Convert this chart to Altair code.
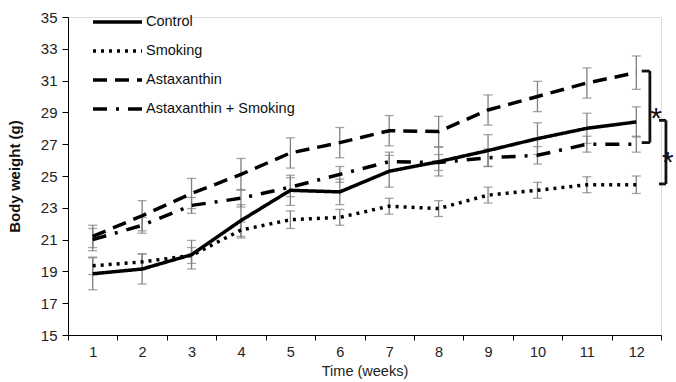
import altair as alt
import pandas as pd

weeks = list(range(1, 13))
series_names = ["Control", "Smoking", "Astaxanthin", "Astaxanthin + Smoking"]

control = [18.85, 19.15, 20.05, 22.2, 24.1, 24.0, 25.3, 25.9, 26.6, 27.35, 28.0, 28.4]
control_err = [1.0, 0.95, 0.9, 1.0, 0.95, 0.8, 1.0, 0.9, 1.0, 1.0, 0.95, 0.95]
smoking = [19.35, 19.6, 20.0, 21.6, 22.25, 22.4, 23.1, 22.95, 23.8, 24.1, 24.45, 24.45]
smoking_err = [0.55, 0.5, 0.5, 0.5, 0.55, 0.5, 0.5, 0.5, 0.5, 0.5, 0.5, 0.55]
asta = [21.2, 22.5, 23.9, 25.1, 26.45, 27.1, 27.85, 27.8, 29.15, 30.0, 30.85, 31.5]
asta_err = [0.7, 0.95, 0.95, 1.0, 0.95, 0.95, 0.95, 0.95, 0.95, 0.95, 0.95, 1.05]
asta_smk = [21.0, 21.9, 23.15, 23.6, 24.3, 25.1, 25.9, 25.85, 26.15, 26.3, 27.0, 27.0]
asta_smk_err = [0.7, 0.5, 0.5, 0.55, 0.6, 0.5, 0.6, 0.5, 0.55, 0.55, 0.5, 0.5]

y_ticks = [15, 17, 19, 21, 23, 25, 27, 29, 31, 33, 35]

rows = []
for name, vals, errs in zip(series_names,
                            [control, smoking, asta, asta_smk],
                            [control_err, smoking_err, asta_err, asta_smk_err]):
    for w, v, e in zip(weeks, vals, errs):
        rows.append({"week": w, "group": name, "weight": v, "lo": v - e, "hi": v + e})
df = pd.DataFrame(rows)

# significance brackets (week-12 comparisons)
brackets = pd.DataFrame([
    {"xa": 12.11, "xb": 12.275, "top": 31.6, "bottom": 27.1},
    {"xa": 12.46, "xb": 12.6, "top": 28.5, "bottom": 24.5},
])
stars = pd.DataFrame([
    {"x": 12.4, "y": 28.0, "label": "*"},
    {"x": 12.64, "y": 25.25, "label": "*"},
])

FONT = "Liberation Sans"
W, H = 593, 318

x_scale = alt.Scale(domain=[0.5, 12.5], nice=False, zero=False)
y_scale = alt.Scale(domain=[15, 35], nice=False, zero=False)

x_axis = alt.Axis(
    values=[v + 0.5 for v in range(0, 13)],
    labelExpr="datum.value < 12 ? format(datum.value + 0.5, 'd') : ''",
    labelOffset=W / 24,
    labelOverlap=False,
    labelFlush=False,
    grid=False,
    tickSize=5,
    tickColor="black",
    domainColor="black",
    labelFont=FONT,
    labelFontSize=14.5,
    labelColor="#222222",
    labelPadding=5,
    title="Time (weeks)",
    titleFont=FONT,
    titleFontSize=14.5,
    titleFontWeight="normal",
    titleColor="#222222",
    titlePadding=6,
)
y_axis = alt.Axis(
    values=y_ticks,
    grid=False,
    tickSize=6,
    tickColor="black",
    domainColor="black",
    labelFont=FONT,
    labelFontSize=15,
    labelColor="#222222",
    labelPadding=5,
    labelOverlap=False,
    labelFlush=False,
    title="Body weight (g)",
    titleFont=FONT,
    titleFontSize=15,
    titleFontWeight="bold",
    titleColor="#111111",
    titlePadding=18,
)


def X(field):
    return alt.X(field, scale=x_scale, axis=x_axis)


def Y(field):
    return alt.Y(field, scale=y_scale, axis=y_axis)


base = alt.Chart(df)

err_rule = base.mark_rule(color="#7f7f7f", strokeWidth=1.3).encode(
    x=X("week:Q"), y=Y("lo:Q"), y2="hi:Q",
)
cap_lo = base.mark_tick(color="#7f7f7f", thickness=1.3, size=9, orient="horizontal").encode(
    x=X("week:Q"), y=Y("lo:Q")
)
cap_hi = base.mark_tick(color="#7f7f7f", thickness=1.3, size=9, orient="horizontal").encode(
    x=X("week:Q"), y=Y("hi:Q")
)

lines = base.mark_line(color="black", strokeWidth=3.5, strokeCap="butt").encode(
    x=X("week:Q"),
    y=Y("weight:Q"),
    strokeDash=alt.StrokeDash(
        "group:N",
        scale=alt.Scale(domain=series_names,
                        range=[[1, 0], [3, 5], [14, 8], [14, 9, 3, 9]]),
        sort=series_names,
        legend=alt.Legend(
            title=None,
            orient="none",
            legendX=23,
            legendY=-2,
            symbolType="stroke",
            symbolSize=2400,
            symbolStrokeWidth=3.5,
            symbolStrokeColor="black",
            clipHeight=14,
            rowPadding=14,
            labelFont=FONT,
            labelFontSize=14.5,
            labelColor="#111111",
            labelOffset=2,
            padding=0,
        ),
    ),
)

br = alt.Chart(brackets)
br_v = br.mark_rule(color="#111111", strokeWidth=2.8).encode(
    x=X("xb:Q"), y=Y("top:Q"), y2="bottom:Q"
)
br_t = br.mark_rule(color="#111111", strokeWidth=2.8).encode(
    x=X("xa:Q"), x2="xb:Q", y=Y("top:Q")
)
br_b = br.mark_rule(color="#111111", strokeWidth=2.8).encode(
    x=X("xa:Q"), x2="xb:Q", y=Y("bottom:Q")
)
star_txt = alt.Chart(stars).mark_text(
    font=FONT, fontSize=30, color="#111111", align="center", baseline="alphabetic"
).encode(x=X("x:Q"), y=Y("y:Q"), text="label:N")

chart = alt.layer(err_rule, cap_lo, cap_hi, lines, br_v, br_t, br_b, star_txt).properties(
    width=W,
    height=H,
    autosize=alt.AutoSizeParams(type="none"),
    padding={"left": 68, "top": 17, "right": 15, "bottom": 47},
).configure_view(stroke=None).configure(background="white")

chart.save("out.html", embed_options={"renderer": "svg", "actions": False})
